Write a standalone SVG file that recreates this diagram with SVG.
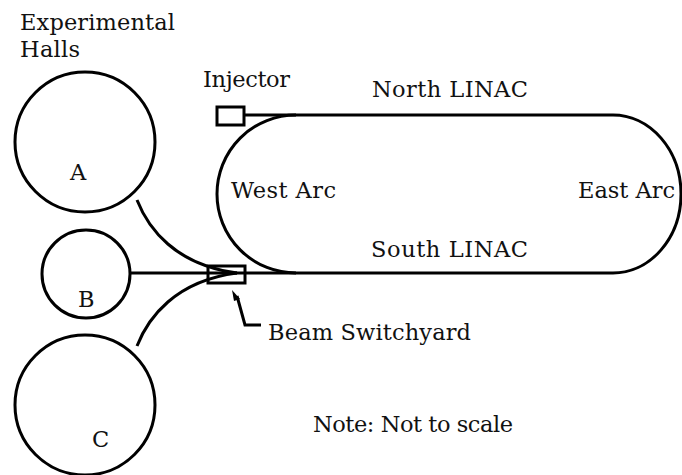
<svg xmlns="http://www.w3.org/2000/svg" width="682" height="475" viewBox="0 0 682 475">
<style>
.s{fill:none;stroke:#000;stroke-width:3}
.t{font-family:"DejaVu Serif","Liberation Serif",serif;font-size:22.5px;fill:#111}
</style>
<rect width="682" height="475" fill="#fff"/>
<g id="connectors">
<path class="s" d="M244,115 L613,115"/>
<path class="s" d="M130,273 L613,273"/>
<path class="s" d="M137,200 C148,228 175,265 237,273"/>
<path class="s" d="M137,346 C148,318 175,281 237,273"/>
<path class="s" d="M237,296 L245,325 L261,325" stroke-width="2.5"/>
<path d="M232,290 L240,299 L234,301 Z" fill="#000"/>
</g>
<g id="racetrack">
<path class="s" d="M296,115 A79,79 0 0 0 296,273"/>
<path class="s" d="M613,115 A68,79 0 0 1 613,273"/>
<text class="t" x="231" y="198" textLength="105" lengthAdjust="spacing">West Arc</text>
<text class="t" x="578" y="198" textLength="97" lengthAdjust="spacing">East Arc</text>
<text class="t" x="372" y="97" textLength="156" lengthAdjust="spacing">North LINAC</text>
<text class="t" x="371" y="257" textLength="157" lengthAdjust="spacing">South LINAC</text>
</g>
<g id="injector">
<rect class="s" x="217" y="107" width="27" height="18"/>
<text class="t" x="203" y="87" textLength="87" lengthAdjust="spacing">Injector</text>
</g>
<g id="switchyard">
<rect class="s" x="208" y="266" width="37" height="17"/>
<text class="t" x="268" y="340" textLength="203" lengthAdjust="spacing">Beam Switchyard</text>
</g>
<g id="hallA">
<circle class="s" cx="85" cy="142" r="70"/>
<text class="t" x="70" y="180">A</text>
</g>
<g id="hallB">
<circle class="s" cx="86" cy="274" r="44"/>
<text class="t" x="78" y="307">B</text>
</g>
<g id="hallC">
<circle class="s" cx="85" cy="405" r="70"/>
<text class="t" x="92" y="447">C</text>
</g>
<g id="labels">
<text class="t" x="20" y="30" textLength="155" lengthAdjust="spacing">Experimental</text>
<text class="t" x="20" y="57" textLength="60" lengthAdjust="spacing">Halls</text>
<text class="t" x="313" y="432" textLength="200" lengthAdjust="spacing">Note: Not to scale</text>
</g>
</svg>
